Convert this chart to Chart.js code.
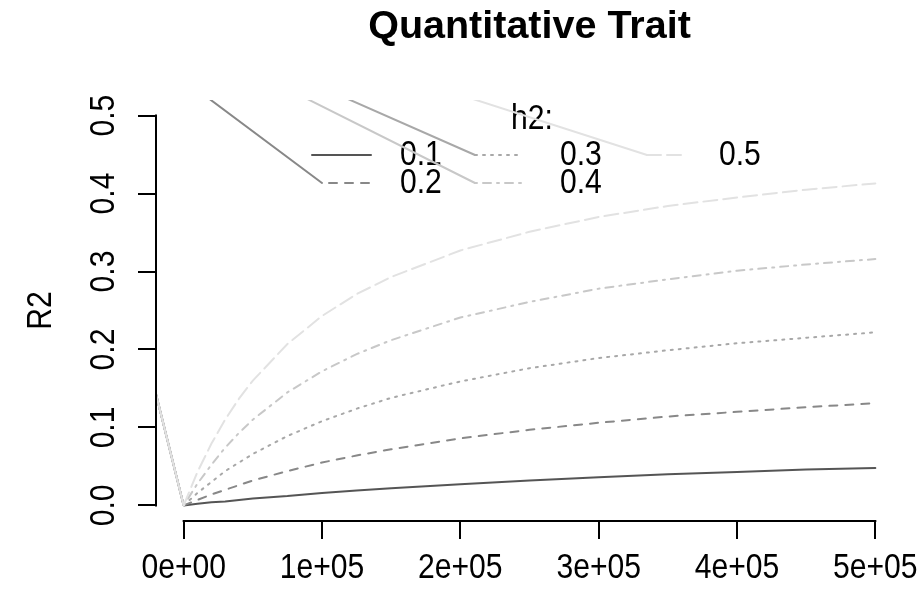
<!DOCTYPE html>
<html><head><meta charset="utf-8">
<script src="https://cdn.jsdelivr.net/npm/chart.js@4/dist/chart.umd.min.js"></script>
<style>html,body{margin:0;padding:0;background:#fff;}</style>
</head><body>
<canvas id="c" width="924" height="596"></canvas>
<script>
// ---- data ----
const sampleSizes = [-100000, 0, 10000, 20000, 30000, 40000, 50000, 75000, 100000, 125000, 150000, 200000, 250000, 300000, 350000, 400000, 450000, 500000];
const h2Levels = ['0.1', '0.2', '0.3', '0.4', '0.5'];
const r2_h01 = [0.713, 0, 0.002, 0.004, 0.005, 0.007, 0.009, 0.012, 0.016, 0.019, 0.022, 0.027, 0.032, 0.036, 0.040, 0.043, 0.046, 0.048];
const r2_h02 = [0.713, 0, 0.007, 0.014, 0.020, 0.026, 0.032, 0.044, 0.055, 0.064, 0.072, 0.086, 0.097, 0.106, 0.114, 0.120, 0.126, 0.131];
const r2_h03 = [0.713, 0, 0.016, 0.030, 0.044, 0.055, 0.066, 0.089, 0.108, 0.124, 0.138, 0.159, 0.176, 0.189, 0.199, 0.208, 0.215, 0.222];
const r2_h04 = [0.713, 0, 0.028, 0.052, 0.074, 0.093, 0.110, 0.145, 0.172, 0.194, 0.212, 0.241, 0.261, 0.278, 0.290, 0.301, 0.309, 0.316];
const r2_h05 = [0.713, 0, 0.043, 0.079, 0.110, 0.137, 0.160, 0.207, 0.243, 0.271, 0.293, 0.327, 0.351, 0.370, 0.384, 0.395, 0.405, 0.413];
const xTicks = [0, 100000, 200000, 300000, 400000, 500000];
const xTickLabels = ['0e+00', '1e+05', '2e+05', '3e+05', '4e+05', '5e+05'];
const yTicks = [0, 0.1, 0.2, 0.3, 0.4, 0.5];
const yTickLabels = ['0.0', '0.1', '0.2', '0.3', '0.4', '0.5'];

// ---- styles ----
const FONT = '"Liberation Sans", Arial, Helvetica, sans-serif';
const FS = 35;             // plain text size
const TEXT_SQUEEZE = 0.86; // plain text in the reference is a narrow sans
const seriesValues = [r2_h01, r2_h02, r2_h03, r2_h04, r2_h05];
const lineColors = ['#555555', '#888888', '#a8a8a8', '#c8c8c8', '#e2e2e2'];
const lineDashes = [[], [8, 8], [2, 6], [2, 6, 8, 6], [14, 6]];

// legend layout (pixels): per item sample start / end, column text x
const LEG = {
  titleX: 532, titleY: 119, rowY: [155, 183],
  sampleStart: [312, 322, 475, 475, 647],
  sampleEnd: [371, 371, 523, 521, 686],
  dashOffset: [0, 9, 0, 0, 0],
  textX: [400, 560, 719],
  origin: [10, -50]
};

// narrow rendering of plain (non-bold) text, anchored at the text position
const canvas = document.getElementById('c');
const ctx0 = canvas.getContext('2d');
const origFillText = ctx0.fillText.bind(ctx0);
ctx0.fillText = function (text, x, y, maxWidth) {
  if (/bold/.test(this.font)) return maxWidth === undefined ? origFillText(text, x, y) : origFillText(text, x, y, maxWidth);
  this.save();
  this.translate(x, y);
  this.scale(TEXT_SQUEEZE, 1);
  origFillText(text, 0, 0);
  this.restore();
};

const rPlot = {
  id: 'rPlot',
  afterDraw(chart) {
    const ctx = chart.ctx, xs = chart.scales.x, ys = chart.scales.y, ca = chart.chartArea;
    ctx.save();
    ctx.strokeStyle = '#000'; ctx.lineWidth = 2; ctx.lineCap = 'square';
    ctx.beginPath();
    ctx.moveTo(xs.getPixelForValue(xTicks[0]), ca.bottom);
    ctx.lineTo(xs.getPixelForValue(xTicks[xTicks.length - 1]), ca.bottom);
    ctx.moveTo(ca.left, ys.getPixelForValue(yTicks[0]));
    ctx.lineTo(ca.left, ys.getPixelForValue(yTicks[yTicks.length - 1]));
    ctx.stroke();
    ctx.restore();

    ctx.save();
    ctx.font = FS + 'px ' + FONT;
    ctx.fillStyle = '#000';
    ctx.textBaseline = 'middle';
    ctx.textAlign = 'center';
    ctx.fillText('h2:', LEG.titleX, LEG.titleY);
    ctx.textAlign = 'left';
    h2Levels.forEach((lv, i) => {
      const col = Math.floor(i / 2), row = i % 2;
      ctx.fillText(lv, LEG.textX[col], LEG.rowY[row]);
    });
    ctx.lineWidth = 2; ctx.lineCap = 'round';
    h2Levels.forEach((lv, i) => {
      const row = i % 2;
      const x0 = LEG.sampleStart[i], x1 = LEG.sampleEnd[i], y = LEG.rowY[row];
      ctx.strokeStyle = lineColors[i];
      if (i > 0) {
        ctx.save();
        ctx.beginPath(); ctx.rect(ca.left, ca.top, ca.right - ca.left, ca.bottom - ca.top); ctx.clip();
        ctx.setLineDash([]);
        ctx.beginPath(); ctx.moveTo(LEG.origin[0], LEG.origin[1]); ctx.lineTo(x0, y); ctx.stroke();
        ctx.restore();
      }
      ctx.setLineDash(lineDashes[i]);
      ctx.lineDashOffset = LEG.dashOffset[i];
      ctx.beginPath(); ctx.moveTo(x0, y); ctx.lineTo(x1, y); ctx.stroke();
    });
    ctx.restore();
  }
};

const tickGrid = { display: true, drawOnChartArea: false, drawTicks: true, tickLength: 18, color: '#000', lineWidth: 2 };

new Chart(canvas, {
  type: 'line',
  data: {
    datasets: h2Levels.map((lv, i) => ({
      label: 'h2 = ' + lv,
      data: sampleSizes.map((n, j) => ({ x: n, y: seriesValues[i][j] })),
      borderColor: lineColors[i],
      borderWidth: 2,
      borderDash: lineDashes[i],
      borderCapStyle: 'round',
      pointRadius: 0,
      tension: 0,
      fill: false,
      order: 5 - i,
      segment: { borderDash: c => (c.p0DataIndex === 0 ? [] : undefined) }
    }))
  },
  options: {
    responsive: false,
    animation: false,
    devicePixelRatio: 1,
    layout: { padding: { left: 0, right: 21, top: 0, bottom: 0 } },
    plugins: {
      legend: { display: false },
      tooltip: { enabled: false },
      title: {
        display: true, text: 'Quantitative Trait', fullSize: false, color: '#000',
        font: { family: FONT, size: 39.5, weight: 'bold', lineHeight: 1.2 },
        padding: { top: 3, bottom: 49.6 }
      }
    },
    scales: {
      x: {
        type: 'linear', min: -20000, max: 520000,
        afterBuildTicks: s => { s.ticks = xTicks.map(v => ({ value: v })); },
        afterFit: s => { s.height = 75; s.paddingLeft = 0; s.paddingRight = 0; },
        grid: tickGrid, border: { display: false },
        ticks: {
          color: '#000', font: { family: FONT, size: FS }, padding: 8, maxRotation: 0, autoSkip: false,
          callback: v => xTickLabels[xTicks.indexOf(v)]
        }
      },
      y: {
        type: 'linear', min: -0.02, max: 0.52,
        afterBuildTicks: s => { s.ticks = yTicks.map(v => ({ value: v })); },
        afterFit: s => { s.width = 156; s.paddingTop = 0; s.paddingBottom = 0; },
        grid: tickGrid, border: { display: false },
        ticks: {
          color: '#000', font: { family: FONT, size: FS }, padding: 9, minRotation: 90, maxRotation: 90,
          crossAlign: 'center', autoSkip: false,
          callback: v => yTickLabels[yTicks.findIndex(t => Math.abs(t - v) < 1e-9)]
        },
        title: { display: true, text: 'R2', color: '#000', font: { family: FONT, size: FS }, padding: { top: 20, bottom: 0 } }
      }
    }
  },
  plugins: [rPlot]
});
</script>
</body></html>
